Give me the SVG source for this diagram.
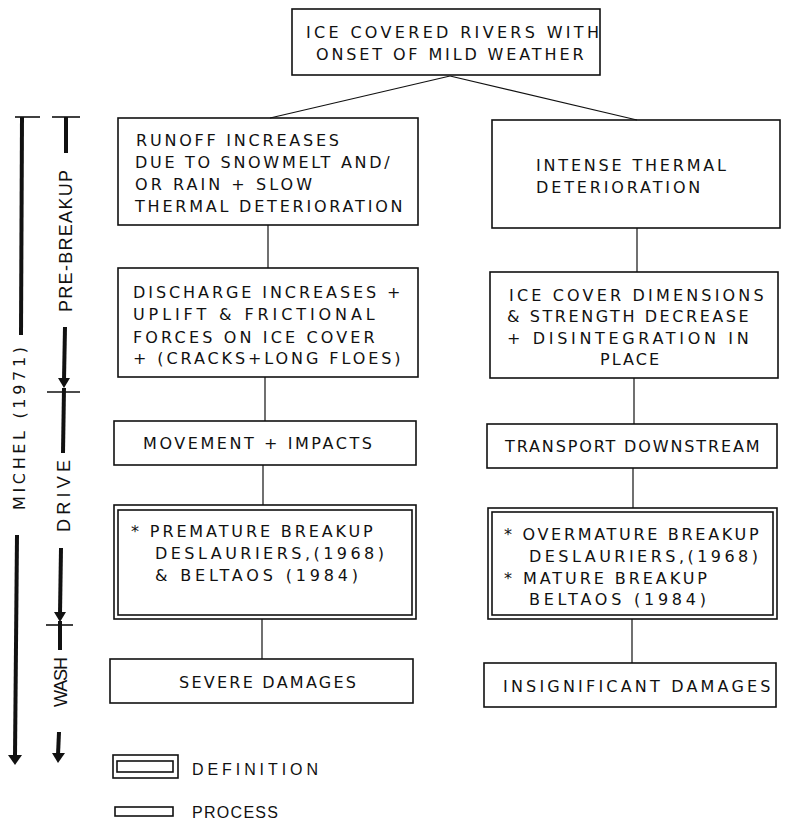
<svg xmlns="http://www.w3.org/2000/svg" width="785" height="821" viewBox="0 0 785 821">
<style>
.box{fill:none;stroke:#111;stroke-width:1.6}
.con{fill:none;stroke:#111;stroke-width:1.2}
.ax{fill:none;stroke:#111;stroke-width:4}
.bar{fill:none;stroke:#111;stroke-width:1.6}
.arr{fill:#111;stroke:none}
.t{font-family:"DejaVu Sans","Liberation Sans",sans-serif;font-size:16px;fill:#111}
.s{font-family:"Liberation Sans",Arial,sans-serif;font-size:18px;fill:#111}
.l{font-family:"Liberation Sans",Arial,sans-serif;font-size:16px;fill:#111}
</style>
<rect width="785" height="821" fill="#fff"/>
<g id="connectors">
<line class="con" x1="450" y1="76" x2="270" y2="118"/>
<line class="con" x1="450" y1="76" x2="637" y2="120"/>
<line class="con" x1="268" y1="225" x2="268" y2="268"/>
<line class="con" x1="265" y1="377" x2="265" y2="421"/>
<line class="con" x1="263" y1="465" x2="263" y2="505"/>
<line class="con" x1="262" y1="619" x2="262" y2="659"/>
<line class="con" x1="637" y1="228" x2="637" y2="272"/>
<line class="con" x1="634" y1="378" x2="634" y2="424"/>
<line class="con" x1="633" y1="468" x2="633" y2="508"/>
<line class="con" x1="632" y1="619" x2="632" y2="663"/>
</g>
<g id="n-top">
<rect class="box" x="292" y="9" width="308" height="66"/>
<text class="t" x="306" y="38" textLength="293" lengthAdjust="spacing">ICE COVERED RIVERS WITH</text>
<text class="t" x="316" y="60" textLength="267.5" lengthAdjust="spacing">ONSET OF MILD WEATHER</text>
</g>
<g id="n-runoff">
<rect class="box" x="118" y="118" width="300" height="107"/>
<text class="t" x="136" y="146" textLength="203" lengthAdjust="spacing">RUNOFF INCREASES</text>
<text class="t" x="135" y="168" textLength="254.6" lengthAdjust="spacing">DUE TO SNOWMELT AND/</text>
<text class="t" x="135" y="190" textLength="177" lengthAdjust="spacing">OR RAIN + SLOW</text>
<text class="t" x="135" y="212" textLength="267.5" lengthAdjust="spacing">THERMAL DETERIORATION</text>
</g>
<g id="n-discharge">
<rect class="box" x="118" y="268" width="300" height="109"/>
<text class="t" x="133" y="298" textLength="267.5" lengthAdjust="spacing">DISCHARGE INCREASES +</text>
<text class="t" x="133" y="320" textLength="241.7" lengthAdjust="spacing">UPLIFT &amp; FRICTIONAL</text>
<text class="t" x="133" y="343" textLength="241.7" lengthAdjust="spacing">FORCES ON ICE COVER</text>
<text class="t" x="133" y="364" textLength="267.5" lengthAdjust="spacing">+ (CRACKS+LONG FLOES)</text>
</g>
<g id="n-movement">
<rect class="box" x="114" y="421" width="302" height="44"/>
<text class="t" x="143" y="449" textLength="229" lengthAdjust="spacing">MOVEMENT + IMPACTS</text>
</g>
<g id="n-premature">
<rect class="box" x="114" y="505" width="302" height="114"/>
<rect class="box" x="118" y="510" width="294" height="105"/>
<text class="t" x="131" y="537" textLength="241.7" lengthAdjust="spacing">* PREMATURE BREAKUP</text>
<text class="t" x="155" y="559" textLength="229" lengthAdjust="spacing">DESLAURIERS,(1968)</text>
<text class="t" x="155" y="581" textLength="203" lengthAdjust="spacing">&amp; BELTAOS (1984)</text>
</g>
<g id="n-severe">
<rect class="box" x="110" y="659" width="303" height="44"/>
<text class="t" x="179" y="688" textLength="177" lengthAdjust="spacing">SEVERE DAMAGES</text>
</g>
<g id="n-intense">
<rect class="box" x="492" y="120" width="288" height="108"/>
<text class="t" x="536" y="171" textLength="190" lengthAdjust="spacing">INTENSE THERMAL</text>
<text class="t" x="536" y="193" textLength="164.3" lengthAdjust="spacing">DETERIORATION</text>
</g>
<g id="n-icecover">
<rect class="box" x="490" y="272" width="288" height="106"/>
<text class="t" x="509" y="301" textLength="254.6" lengthAdjust="spacing">ICE COVER DIMENSIONS</text>
<text class="t" x="507" y="322" textLength="241.7" lengthAdjust="spacing">&amp; STRENGTH DECREASE</text>
<text class="t" x="507" y="344" textLength="241.7" lengthAdjust="spacing">+ DISINTEGRATION IN</text>
<text class="t" x="600" y="365" textLength="59" lengthAdjust="spacing">PLACE</text>
</g>
<g id="n-transport">
<rect class="box" x="487" y="424" width="290" height="44"/>
<text class="t" x="505" y="452" textLength="254.6" lengthAdjust="spacing">TRANSPORT DOWNSTREAM</text>
</g>
<g id="n-overmature">
<rect class="box" x="488" y="508" width="289" height="111"/>
<rect class="box" x="492" y="512" width="281" height="103"/>
<text class="t" x="504" y="540" textLength="254.6" lengthAdjust="spacing">* OVERMATURE BREAKUP</text>
<text class="t" x="529" y="562" textLength="229" lengthAdjust="spacing">DESLAURIERS,(1968)</text>
<text class="t" x="504" y="584" textLength="203" lengthAdjust="spacing">* MATURE BREAKUP</text>
<text class="t" x="529" y="605" textLength="177" lengthAdjust="spacing">BELTAOS (1984)</text>
</g>
<g id="n-insignificant">
<rect class="box" x="484" y="663" width="292" height="44"/>
<text class="t" x="503" y="692" textLength="267.5" lengthAdjust="spacing">INSIGNIFICANT DAMAGES</text>
</g>
<g id="axis-michel">
<line class="bar" x1="15" y1="117" x2="40" y2="117"/>
<line class="ax" x1="22" y1="117" x2="21" y2="335"/>
<text class="t" transform="translate(25,510) rotate(-90)" x="0" y="0" textLength="163" lengthAdjust="spacing">MICHEL (1971)</text>
<line class="ax" x1="17" y1="535" x2="15" y2="756"/>
<polygon class="arr" points="8,755 22,755 15,765"/>
</g>
<g id="axis-stages">
<line class="bar" x1="52" y1="117" x2="80" y2="117"/>
<line class="ax" x1="66" y1="117" x2="66" y2="153"/>
<text class="s" transform="translate(72,312) rotate(-90)" x="0" y="0" textLength="142" lengthAdjust="spacing">PRE-BREAKUP</text>
<line class="ax" x1="65" y1="327" x2="64" y2="380"/>
<polygon class="arr" points="58,378 70,378 64,388"/>
<line class="bar" x1="47" y1="392" x2="80" y2="392"/>
<line class="ax" x1="64" y1="388" x2="63" y2="453"/>
<text class="s" transform="translate(70,532) rotate(-90)" x="0" y="0" textLength="72" lengthAdjust="spacing">DRIVE</text>
<line class="ax" x1="61" y1="548" x2="60" y2="614"/>
<polygon class="arr" points="54,612 66,612 60,622"/>
<line class="bar" x1="46" y1="625" x2="73" y2="625"/>
<line class="ax" x1="60" y1="621" x2="60" y2="650"/>
<text class="s" transform="translate(67,707) rotate(-90)" x="0" y="0" textLength="50" lengthAdjust="spacing">WASH</text>
<line class="ax" x1="59" y1="732" x2="58" y2="755"/>
<polygon class="arr" points="52,753 65,753 58,763"/>
</g>
<g id="legend">
<rect class="box" x="113" y="755" width="65" height="23"/>
<rect class="box" x="117" y="761" width="56" height="11"/>
<text class="l" x="192" y="775" textLength="126" lengthAdjust="spacing">DEFINITION</text>
<rect class="box" x="115" y="807" width="58" height="9"/>
<text class="l" x="192" y="818" textLength="86" lengthAdjust="spacing">PROCESS</text>
</g>
</svg>
